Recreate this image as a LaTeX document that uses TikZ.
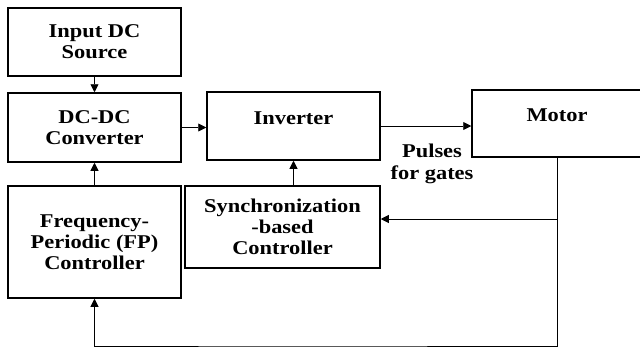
\documentclass[tikz,border=0pt]{standalone}
\usepackage{fontspec}
\setmainfont[FakeStretch=1.15]{Liberation Serif}
\usetikzlibrary{arrows.meta}

\begin{document}
\begin{tikzpicture}[x=1pt, y=-1pt,
    block/.style={draw, line width=1.5pt, align=center, inner sep=0pt,
      font=\fontsize{19.5}{21}\selectfont\bfseries},
    link/.style={line width=0.9pt, -{Triangle[length=8pt, width=8pt]}}
  ]
    \useasboundingbox (0,0) rectangle (640,349);

    \node[block, minimum width=173pt, minimum height=68pt] (src) at (94.5,42) {Input DC\\Source};
    \node[block, minimum width=173pt, minimum height=69pt] (conv) at (94.5,127.5) {DC-DC\\Converter};
    \node[block, minimum width=173pt, minimum height=68pt, text depth=16pt] (inv) at (293.5,126) {Inverter};
    \node[block, minimum width=170pt, minimum height=67pt, text depth=16pt] (motor) at (557,123.5) {Motor};
    \node[block, minimum width=173pt, minimum height=112pt] (fp) at (94.5,242) {Frequency-\\Periodic (FP)\\Controller};
    \node[block, minimum width=195pt, minimum height=82pt] (sync) at (282.5,227) {Synchronization\\-based\\Controller};

    \node[align=center, inner sep=0pt, font=\fontsize{19.5}{22}\selectfont\bfseries] (pulses) at (432,164) {Pulses\\for gates};

    \coordinate (tap) at (557,219);
    \coordinate (bot) at (300,346);

    \draw[link] (src) -- (conv);
    \draw[link] (fp) -- (conv);
    \draw[link] (conv.east) -- (conv.east -| inv.west);
    \draw[link] (inv.east) -- (inv.east -| motor.west);
    \draw[link] (inv.south |- sync.north) -- (inv.south);

    % feedback from the motor
    \draw[link] (motor.south) -- (tap) -- (tap -| sync.east);
    \draw[link] (tap) |- (bot) -| (fp.south);
  \end{tikzpicture}
\end{document}
